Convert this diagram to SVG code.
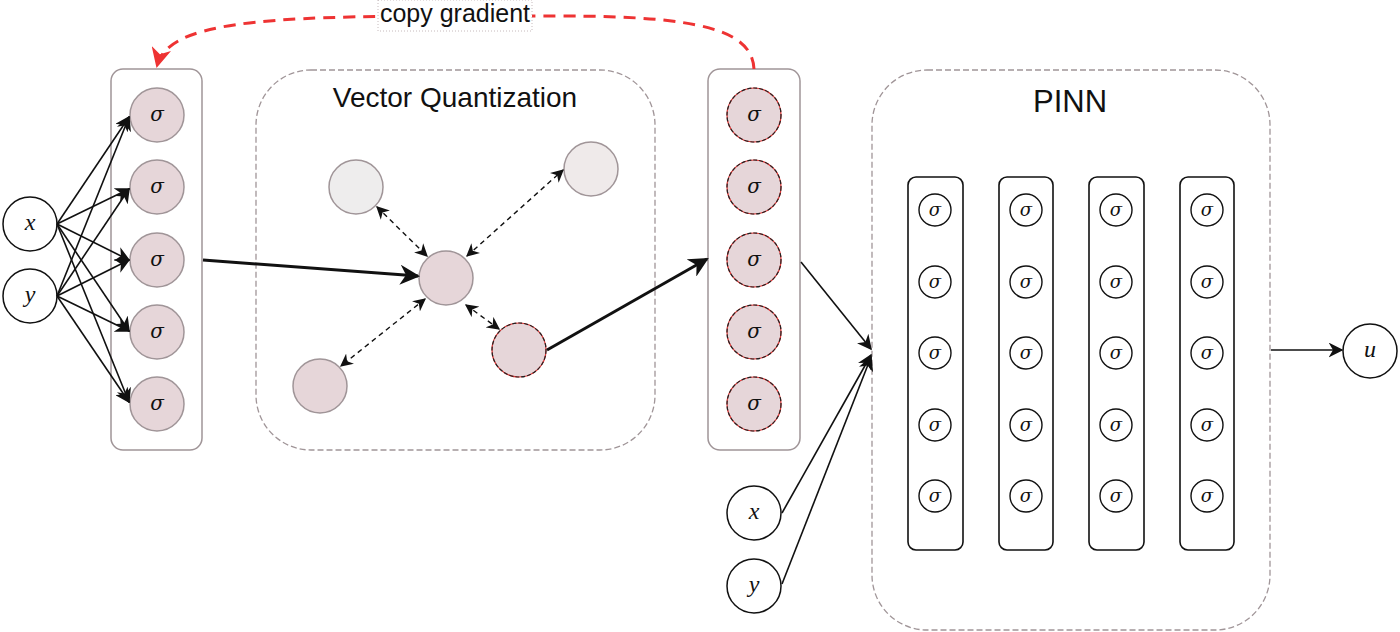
<svg xmlns="http://www.w3.org/2000/svg" width="1400" height="632" viewBox="0 0 1400 632">
<style>
.bg{fill:#fff}
.col{fill:#fff;stroke:#a09598;stroke-width:1.5}
.grp{fill:#fff;stroke:#a09598;stroke-width:1.3;stroke-dasharray:6 3}
.sg{fill:#e6d6d9;stroke:#a09598;stroke-width:1.5}
.sr{fill:#e6d6d9;stroke:#d33;stroke-width:1.2}
.srd{fill:none;stroke:#222;stroke-width:1.2;stroke-dasharray:4 2}
.gr{fill:#eeeded;stroke:#a09598;stroke-width:1.5}
.io{fill:#fff;stroke:#111;stroke-width:1.5}
.lay{fill:#fff;stroke:#111;stroke-width:1.6}
.sm{fill:#fff;stroke:#111;stroke-width:1.4}
.sig{font-family:'DejaVu Serif','Liberation Serif',serif;font-style:italic;font-size:20px;fill:#111;text-anchor:middle}
.sig2{font-family:'DejaVu Serif','Liberation Serif',serif;font-style:italic;font-size:18px;fill:#111;text-anchor:middle}
.var{font-family:'Liberation Serif','DejaVu Serif',serif;font-style:italic;font-size:24px;fill:#111;text-anchor:middle}
.ttl{font-family:'Liberation Sans',Arial,sans-serif;fill:#111;text-anchor:middle}
.ln{fill:none;stroke:#111;stroke-width:1.6}
.thk{fill:none;stroke:#111;stroke-width:3}
.dsh{fill:none;stroke:#111;stroke-width:1.4;stroke-dasharray:5 4}
.red{fill:none;stroke:#ee3333;stroke-width:3;stroke-dasharray:12 8}
</style>
<defs>
<marker id="ahb" viewBox="0 0 10 10" refX="9" refY="5" markerWidth="20" markerHeight="20" markerUnits="userSpaceOnUse" orient="auto"><path d="M0,0 L10,5 L0,10 L3,5 z" fill="#111"/></marker>
<marker id="ahm" viewBox="0 0 10 10" refX="9" refY="5" markerWidth="15" markerHeight="15" markerUnits="userSpaceOnUse" orient="auto"><path d="M0,0 L10,5 L0,10 L3,5 z" fill="#111"/></marker>
<marker id="ahd" viewBox="0 0 10 10" refX="9" refY="5" markerWidth="13" markerHeight="13" markerUnits="userSpaceOnUse" orient="auto-start-reverse"><path d="M0,0 L10,5 L0,10 L3,5 z" fill="#111"/></marker>
<marker id="ahr" viewBox="0 0 10 10" refX="9" refY="5" markerWidth="20" markerHeight="20" markerUnits="userSpaceOnUse" orient="auto"><path d="M0,0 L10,5 L0,10 L3,5 z" fill="#ee3333"/></marker>
</defs>
<rect class="bg" x="0" y="0" width="1400" height="632"/>

<g id="vq-group">
<rect class="grp" x="256" y="70" width="399" height="380" rx="55"/>
<text class="ttl" x="455" y="107" font-size="28">Vector Quantization</text>
</g>
<g id="pinn-group">
<rect class="grp" x="872" y="70" width="398" height="560" rx="55"/>
<text class="ttl" x="1070" y="112" font-size="31">PINN</text>
</g>

<g id="input-x"><circle class="io" cx="30" cy="224" r="27"/><text class="var" x="30" y="230">x</text></g>
<g id="input-y"><circle class="io" cx="30" cy="296" r="27"/><text class="var" x="30" y="302">y</text></g>

<g id="encoder-layer">
<rect class="col" x="111" y="69" width="91" height="381" rx="12"/>
<circle class="sg" cx="157" cy="115" r="27"/><text class="sig" x="157" y="121">σ</text>
<circle class="sg" cx="157" cy="187" r="27"/><text class="sig" x="157" y="193">σ</text>
<circle class="sg" cx="157" cy="260" r="27"/><text class="sig" x="157" y="266">σ</text>
<circle class="sg" cx="157" cy="332" r="27"/><text class="sig" x="157" y="338">σ</text>
<circle class="sg" cx="157" cy="404" r="27"/><text class="sig" x="157" y="410">σ</text>
</g>

<g id="vq-center"><circle class="sg" cx="446" cy="278" r="27"/></g>
<g id="vq-code-1"><circle class="gr" cx="356" cy="187" r="27"/></g>
<g id="vq-code-2"><circle class="gr" cx="591" cy="169" r="27" style="fill:#efeaea"/></g>
<g id="vq-code-3"><circle class="sg" cx="320" cy="386" r="27"/></g>
<g id="vq-code-selected"><circle class="sr" cx="519" cy="350" r="27"/><circle class="srd" cx="519" cy="350" r="27"/></g>

<g id="quantized-layer">
<rect class="col" x="708" y="69" width="92" height="381" rx="12"/>
<circle class="sr" cx="754" cy="115" r="27"/><circle class="srd" cx="754" cy="115" r="27"/><text class="sig" x="754" y="121">σ</text>
<circle class="sr" cx="754" cy="187" r="27"/><circle class="srd" cx="754" cy="187" r="27"/><text class="sig" x="754" y="193">σ</text>
<circle class="sr" cx="754" cy="260" r="27"/><circle class="srd" cx="754" cy="260" r="27"/><text class="sig" x="754" y="266">σ</text>
<circle class="sr" cx="754" cy="332" r="27"/><circle class="srd" cx="754" cy="332" r="27"/><text class="sig" x="754" y="338">σ</text>
<circle class="sr" cx="754" cy="404" r="27"/><circle class="srd" cx="754" cy="404" r="27"/><text class="sig" x="754" y="410">σ</text>
</g>

<g id="input-x2"><circle class="io" cx="754" cy="513" r="27"/><text class="var" x="754" y="519">x</text></g>
<g id="input-y2"><circle class="io" cx="754" cy="586" r="27"/><text class="var" x="754" y="592">y</text></g>

<g id="pinn-layer-1">
<rect class="lay" x="908" y="177" width="55" height="373" rx="8"/>
<circle class="sm" cx="935" cy="210" r="16"/><text class="sig2" x="935" y="216">σ</text>
<circle class="sm" cx="935" cy="282" r="16"/><text class="sig2" x="935" y="288">σ</text>
<circle class="sm" cx="935" cy="353" r="16"/><text class="sig2" x="935" y="359">σ</text>
<circle class="sm" cx="935" cy="425" r="16"/><text class="sig2" x="935" y="431">σ</text>
<circle class="sm" cx="935" cy="496" r="16"/><text class="sig2" x="935" y="502">σ</text>
</g>
<g id="pinn-layer-2">
<rect class="lay" x="999" y="177" width="54" height="373" rx="8"/>
<circle class="sm" cx="1026" cy="210" r="16"/><text class="sig2" x="1026" y="216">σ</text>
<circle class="sm" cx="1026" cy="282" r="16"/><text class="sig2" x="1026" y="288">σ</text>
<circle class="sm" cx="1026" cy="353" r="16"/><text class="sig2" x="1026" y="359">σ</text>
<circle class="sm" cx="1026" cy="425" r="16"/><text class="sig2" x="1026" y="431">σ</text>
<circle class="sm" cx="1026" cy="496" r="16"/><text class="sig2" x="1026" y="502">σ</text>
</g>
<g id="pinn-layer-3">
<rect class="lay" x="1089" y="177" width="55" height="373" rx="8"/>
<circle class="sm" cx="1116" cy="210" r="16"/><text class="sig2" x="1116" y="216">σ</text>
<circle class="sm" cx="1116" cy="282" r="16"/><text class="sig2" x="1116" y="288">σ</text>
<circle class="sm" cx="1116" cy="353" r="16"/><text class="sig2" x="1116" y="359">σ</text>
<circle class="sm" cx="1116" cy="425" r="16"/><text class="sig2" x="1116" y="431">σ</text>
<circle class="sm" cx="1116" cy="496" r="16"/><text class="sig2" x="1116" y="502">σ</text>
</g>
<g id="pinn-layer-4">
<rect class="lay" x="1180" y="177" width="54" height="373" rx="8"/>
<circle class="sm" cx="1207" cy="210" r="16"/><text class="sig2" x="1207" y="216">σ</text>
<circle class="sm" cx="1207" cy="282" r="16"/><text class="sig2" x="1207" y="288">σ</text>
<circle class="sm" cx="1207" cy="353" r="16"/><text class="sig2" x="1207" y="359">σ</text>
<circle class="sm" cx="1207" cy="425" r="16"/><text class="sig2" x="1207" y="431">σ</text>
<circle class="sm" cx="1207" cy="496" r="16"/><text class="sig2" x="1207" y="502">σ</text>
</g>

<g id="output-u"><circle class="io" cx="1370" cy="351" r="27"/><text class="var" x="1370" y="357">u</text></g>

<g id="connectors">
<path class="ln" d="M57,224 L129,117" marker-end="url(#ahm)"/>
<path class="ln" d="M57,224 L129,189" marker-end="url(#ahm)"/>
<path class="ln" d="M57,224 L129,260" marker-end="url(#ahm)"/>
<path class="ln" d="M57,224 L129,331" marker-end="url(#ahm)"/>
<path class="ln" d="M57,224 L129,402" marker-end="url(#ahm)"/>
<path class="ln" d="M57,296 L129,117" marker-end="url(#ahm)"/>
<path class="ln" d="M57,296 L129,189" marker-end="url(#ahm)"/>
<path class="ln" d="M57,296 L129,260" marker-end="url(#ahm)"/>
<path class="ln" d="M57,296 L129,331" marker-end="url(#ahm)"/>
<path class="ln" d="M57,296 L129,402" marker-end="url(#ahm)"/>
<path class="thk" d="M203,260 L418,276" marker-end="url(#ahb)"/>
<path class="dsh" d="M377,207 L427,256" marker-start="url(#ahd)" marker-end="url(#ahd)"/>
<path class="dsh" d="M467,256 L563,170" marker-start="url(#ahd)" marker-end="url(#ahd)"/>
<path class="dsh" d="M425,299 L341,366" marker-start="url(#ahd)" marker-end="url(#ahd)"/>
<path class="dsh" d="M466,305 L499,329" marker-start="url(#ahd)" marker-end="url(#ahd)"/>
<path class="thk" d="M547,350 L707,259" marker-end="url(#ahb)"/>
<path class="ln" d="M801,262 L871,349" marker-end="url(#ahm)"/>
<path class="ln" d="M782,513 L871,355" marker-end="url(#ahm)"/>
<path class="ln" d="M782,584 L871,357" marker-end="url(#ahm)"/>
<path class="ln" d="M1271,350 L1342,350" marker-end="url(#ahm)"/>
<path class="red" d="M754,69 C752,30 700,16 560,16 L455,16 C260,16 168,22 157,66" marker-end="url(#ahr)"/>
</g>

<g id="copy-gradient-label">
<rect x="378" y="0" width="154" height="31" fill="#fff" stroke="#b8a8ab" stroke-width="0.8" stroke-dasharray="1 2"/>
<text class="ttl" x="455" y="22" font-size="25">copy gradient</text>
</g>
</svg>
